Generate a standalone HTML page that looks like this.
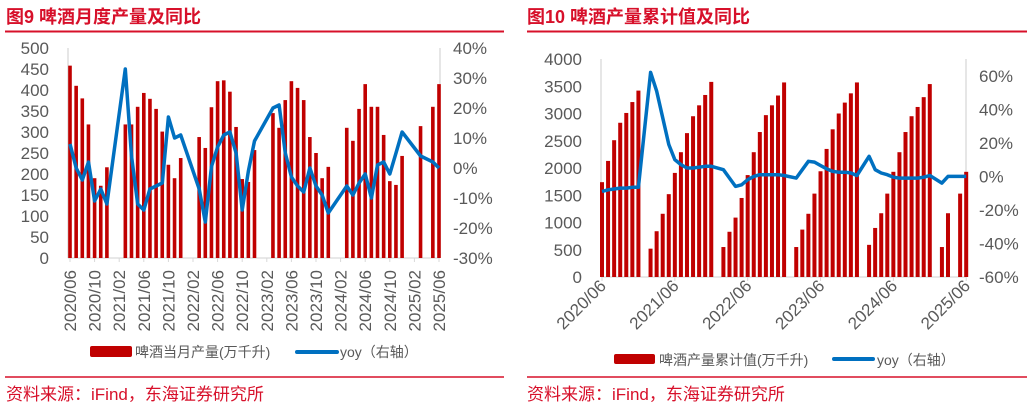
<!DOCTYPE html>
<html><head><meta charset="utf-8"><style>
body{margin:0;background:#fff;width:1032px;height:409px;overflow:hidden}
svg{display:block;font-family:"Liberation Sans","Noto Sans CJK SC",sans-serif}
</style></head><body>
<svg id="s" width="1032" height="409" viewBox="0 0 1032 409">
<text x="6" y="23" font-size="18" font-weight="bold" fill="#d7102a">图9  啤酒月度产量及同比</text>
<line x1="5" y1="31.5" x2="504" y2="31.5" stroke="#d7102a" stroke-width="2"/>
<text x="527" y="23" font-size="18" font-weight="bold" fill="#d7102a">图10  啤酒产量累计值及同比</text>
<line x1="527" y1="31.5" x2="1027" y2="31.5" stroke="#d7102a" stroke-width="2"/>
<line x1="5" y1="377" x2="504" y2="377" stroke="#d7102a" stroke-width="1.5"/>
<line x1="527" y1="377" x2="1027" y2="377" stroke="#d7102a" stroke-width="1.5"/>
<text x="6" y="400" font-size="17" fill="#d7102a">资料来源：iFind，东海证券研究所</text>
<text x="527" y="400" font-size="17" fill="#d7102a">资料来源：iFind，东海证券研究所</text>
<g id="c1"></g>
<g id="c2"></g>
<rect x="90" y="346" width="42" height="11" rx="2" fill="#c00000"/>
<text x="135" y="357" font-size="14" fill="#595959">啤酒当月产量(万千升)</text>
<line x1="297" y1="352" x2="337" y2="352" stroke="#0070c0" stroke-width="4" stroke-linecap="round"/>
<text x="340" y="357" font-size="14" fill="#595959">yoy（右轴）</text>
<rect x="614" y="354" width="41" height="10" rx="2" fill="#c00000"/>
<text x="659" y="365" font-size="14" fill="#595959">啤酒产量累计值(万千升)</text>
<line x1="834" y1="359" x2="873" y2="359" stroke="#0070c0" stroke-width="4" stroke-linecap="round"/>
<text x="877" y="365" font-size="14" fill="#595959">yoy（右轴）</text>
</svg>
<script>
const N=null;
const months=[];
for(let y=2020,m=6;months.length<61;){months.push(y+'/'+String(m).padStart(2,'0'));m++;if(m>12){m=1;y++;}}
const monthly=[458,410,380,318,190,172,216, N,N,318,318,360,393,379,355,301,222,190,238, N,N,288,262,359,421,423,396,312,188,181,257, N,N,345,310,376,421,405,376,288,250,190,217, N,N,310,279,355,414,360,360,293,183,174,243, N,N,314,N,360,414];
const yoy1=[8,0,-4,2,-11,-7,-12, N,N,33,4,-12,-14,-7,-6,-5,17,10,11, N,N,-7,-18,0.5,7,11,12,5,-14,-1,9, N,N,20,21,5,-3,-6,-8,0,-6,-9,-15, N,N,-6,-9,-5,-2,-10,1,2,-2,5,12, N,N,4,N,2,0];
const cumulative=[1740,2130,2510,2830,3010,3210,3420, N,520,840,1160,1520,1910,2290,2640,2950,3150,3340,3580, N,550,830,1090,1450,1870,2290,2660,2970,3150,3330,3570, N,550,870,1160,1530,1940,2350,2710,3000,3200,3370,3570, N,590,900,1170,1530,1930,2290,2660,2950,3120,3300,3540, N,550,1170,N,1530,1930];
const yoy2=[-9,-8,-7.5,-7,-7,-6.5,-6.5, N,62,51,35,19,10,7,5,5,5.5,6,6, N,4,-1,-6,-5,-2,0,1,1,1,1,0.5, N,-1,4,9,8.5,6.5,4.5,3,2.5,2.5,2,0.5, N,12,4,2,1,-0.5,-1,-1,-1,-1,-0.5,0.5, N,-4,0,N,0,0];
const leftTicks1=[0,50,100,150,200,250,300,350,400,450,500];
const rightTicks1=[-30,-20,-10,0,10,20,30,40];
const leftTicks2=[0,500,1000,1500,2000,2500,3000,3500,4000];
const rightTicks2=[-60,-40,-20,0,20,40,60];
const NS='http://www.w3.org/2000/svg';
function el(p,t,a){const e=document.createElementNS(NS,t);for(const k in a)e.setAttribute(k,a[k]);p.appendChild(e);return e;}
function draw(g,o){
  const x=i=>o.x0+i*o.dx, yl=v=>o.yb-(v-o.lmin)/(o.lmax-o.lmin)*(o.yb-o.yt), yr=v=>o.yb-(v-o.rmin)/(o.rmax-o.rmin)*(o.yb-o.yt);
  let a=el(g,'line',{x1:o.ax1,y1:o.axTop,x2:o.ax1,y2:o.yb,stroke:'#d9d9d9','stroke-width':1.3});
  
  a=el(g,'line',{x1:o.ax2,y1:o.axTop,x2:o.ax2,y2:o.yb,stroke:'#d9d9d9','stroke-width':1.3});
  
  a=el(g,'line',{x1:o.ax1,y1:o.yb,x2:o.ax2,y2:o.yb,stroke:'#d9d9d9','stroke-width':1.3});
  
  o.lt.forEach(v=>{const t=el(g,'text',{x:o.ax1-19,y:yl(v)+6,'font-size':17,fill:'#595959','text-anchor':'end'});t.textContent=v;
    });
  o.rt.forEach(v=>{const t=el(g,'text',{x:o.ax2+13,y:yr(v)+6,'font-size':17,fill:'#595959'});t.textContent=v+'%';
    });
  o.bars.forEach((v,i)=>{if(v==null)return;const r=el(g,'rect',{x:x(i)-o.bw/2,y:yl(v),width:o.bw,height:o.yb-yl(v),fill:'#c00000'});
    });
  let d='';o.line.forEach((v,i)=>{if(v==null)return;d+=(d?'L':'M')+x(i).toFixed(1)+','+yr(v).toFixed(1);});
  const p=el(g,'path',{d:d,fill:'none',stroke:'#0070c0','stroke-width':3.5,'stroke-linejoin':'round'});
  
  for(let i=0;i<months.length;i+=o.step){
    const tk=el(g,'line',{x1:x(i),y1:o.yb,x2:x(i),y2:o.yb+4,stroke:'#d9d9d9'});
    
    const t=el(g,'text',{'font-size':17,fill:'#595959','text-anchor':'end'});
    if(o.rot==-90)t.setAttribute('transform','translate('+(x(i)+6)+','+(o.yb+12)+') rotate(-90)');
    else t.setAttribute('transform','translate('+(x(i)+5)+','+(o.yb+10)+') rotate(-45)');
    t.textContent=months[i];
    
  }
}
draw(document.getElementById('c1'),{x0:70,dx:6.15,yb:258,yt:48,axTop:48,ax1:68,ax2:440,lmin:0,lmax:500,rmin:-30,rmax:40,lt:leftTicks1,rt:rightTicks1,bars:monthly,line:yoy1,bw:3.6,step:4,rot:-90});
draw(document.getElementById('c2'),{x0:602,dx:6.07,yb:277,yt:59,axTop:59,ax1:601,ax2:966,lmin:0,lmax:4000,rmin:-60,rmax:70,lt:leftTicks2,rt:rightTicks2,bars:cumulative,line:yoy2,bw:4,step:12,rot:-45});
</script>
</body></html>
